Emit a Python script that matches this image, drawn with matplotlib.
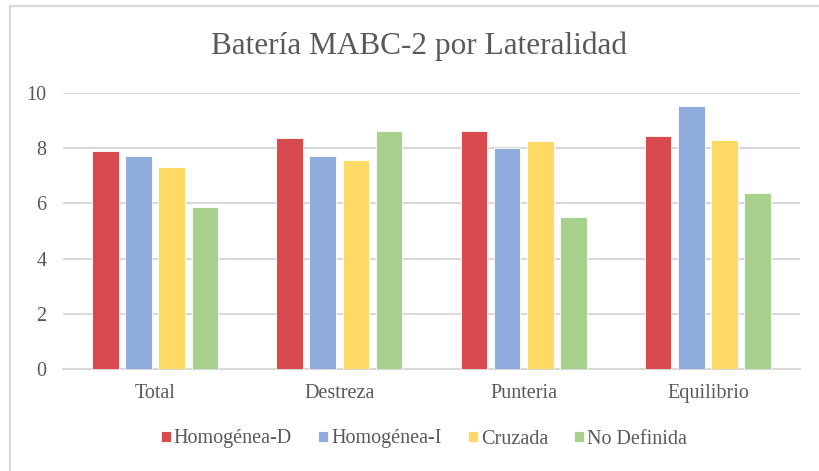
import matplotlib
matplotlib.use("Agg")
import matplotlib.pyplot as plt
import numpy as np
from matplotlib.patches import Rectangle

categories = ["Total", "Destreza", "Punteria", "Equilibrio"]
series_names = ["Homogénea-D", "Homogénea-I", "Cruzada", "No Definida"]
homogenea_d = [7.89, 8.38, 8.64, 8.45]
homogenea_i = [7.70, 7.70, 8.00, 9.52]
cruzada = [7.32, 7.58, 8.27, 8.31]
no_definida = [5.88, 8.64, 5.51, 6.37]
colors = ["#D94A4E", "#8FACDC", "#FED966", "#A9D18E"]

plt.rcParams['font.family'] = ['Liberation Serif', 'DejaVu Serif']
text_color = "#595959"

fig = plt.figure(figsize=(8.19, 4.71), dpi=100)
fig.patches.append(Rectangle((10/819, -0.1), 1.2, (471-6)/471 + 0.1, transform=fig.transFigure,
                             fill=False, edgecolor="#D9D9D9", linewidth=1.6, zorder=0))

ax = fig.add_axes([63/819, (471-369)/471, (800-63)/819, (369-93)/471])
x = np.arange(len(categories))
spacing = 0.18
width = 0.145
all_series = [homogenea_d, homogenea_i, cruzada, no_definida]
for i, (vals, name, c) in enumerate(zip(all_series, series_names, colors)):
    ax.bar(x + (i - 1.5) * spacing, vals, width, color=c, label=name,
           edgecolor="white", linewidth=0.6, zorder=3)

ax.set_xlim(-0.5, 3.5)
ax.set_ylim(0, 10)
ax.set_yticks([0, 2, 4, 6, 8, 10])
ax.set_xticks(x)
ax.set_xticklabels(categories)
ax.yaxis.grid(True, color="#D9D9D9", linewidth=1.5, zorder=0)
ax.set_axisbelow(True)
for s in ["top", "right", "left"]:
    ax.spines[s].set_visible(False)
ax.spines["bottom"].set_color("#D9D9D9")
ax.spines["bottom"].set_linewidth(1.5)
ax.tick_params(axis="both", length=0, labelsize=14.5, colors=text_color)
ax.tick_params(axis="y", pad=12)
ax.tick_params(axis="x", pad=11)

fig.text(419 / 819, 1 - 46/471, "Batería MABC-2 por Lateralidad",
         ha="center", va="center", fontsize=22.5, color=text_color)

leg = fig.legend(loc="center", bbox_to_anchor=(424 / 819, 1 - 439/471),
                 ncol=4, frameon=False, fontsize=14.5, handlelength=0.5, handleheight=0.5,
                 handletextpad=0.15, columnspacing=1.3)
for t in leg.get_texts():
    t.set_color(text_color)

fig.savefig("out.png", dpi=100)
